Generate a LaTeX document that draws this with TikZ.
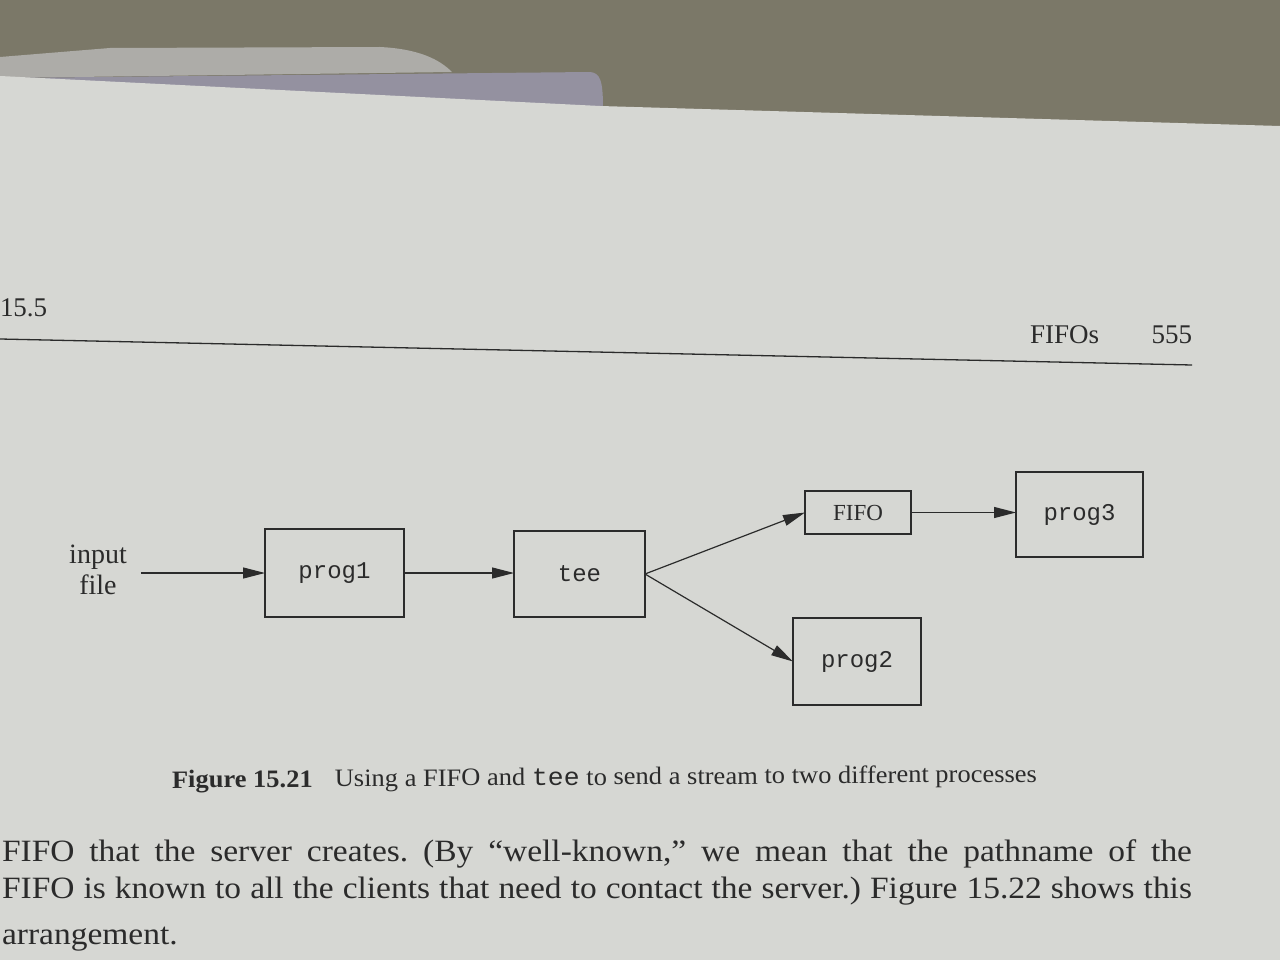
\documentclass[tikz,border=0pt]{standalone}
\usepackage{fontspec}
\setmainfont{Liberation Serif}
\setmonofont{Liberation Mono}
\newfontfamily\bodyfont[FakeStretch=1.08]{Liberation Serif}
\newfontfamily\capfont[FakeStretch=1.06]{Liberation Serif}
\newfontfamily\capmono[FakeStretch=1.06]{Liberation Mono}
\usetikzlibrary{arrows.meta}
\definecolor{bgolive}{HTML}{7B7868}
\definecolor{tablight}{HTML}{ADACA8}
\definecolor{tabshadow}{HTML}{9491A0}
\definecolor{paper}{HTML}{D6D7D3}
\definecolor{ink}{HTML}{2B2B2B}
\tikzset{
  pbox/.style={draw=ink, line width=1.2pt, inner sep=0pt, outer sep=0pt, text=ink,
    font=\fontsize{24}{28}\selectfont\ttfamily},
  sbox/.style={draw=ink, line width=1.2pt, inner sep=0pt, outer sep=0pt, text=ink,
    font=\fontsize{23}{27}\selectfont},
  conn/.style={draw=ink, line width=1.2pt, -{Triangle[length=22pt,width=11pt]}},
  plain/.style={text=ink, inner sep=0pt, outer sep=0pt},
  hdr/.style={plain, font=\fontsize{27}{30}\selectfont},
  captxt/.style={plain, font=\fontsize{25}{29}\capfont},
  bodytxt/.style={plain, font=\fontsize{31}{36}\bodyfont\frenchspacing},
}
\begin{document}
\begin{tikzpicture}[x=1pt,y=-1pt]
\useasboundingbox (0,0) rectangle (1280,960);
% photo background
\fill[bgolive] (0,0) rectangle (1280,960);
\fill[tablight] (0,57) -- (110,48) -- (380,47) .. controls (420,49) and (440,60) .. (452,72) -- (0,78) -- cycle;
\fill[tabshadow] (100,77) -- (590,72) .. controls (600,73) and (603,80) .. (603,108) -- (0,78) -- cycle;
\fill[paper] (0,76) -- (600,106) -- (1280,126) -- (1280,960) -- (0,960) -- cycle;
% running head
\node[hdr, anchor=base west] (sec) at (0,316) {15.5};
\node[hdr, anchor=base west] (title) at (1030,343) {FIFOs};
\node[hdr, anchor=base east] (page) at (1192,343) {555};
\coordinate (ruleL) at (0,339);
\coordinate (ruleR) at (1192,365);
\draw[ink, line width=1.3pt] (ruleL) -- (ruleR);
% diagram
\node[plain, align=center, font=\fontsize{28}{31}\selectfont, inner xsep=14pt] (in) at (98,570) {input\\file};
\node[pbox, minimum width=139pt, minimum height=88pt] (p1) at (334.5,573) {prog1};
\node[pbox, minimum width=131pt, minimum height=86pt] (tee) at (579.5,574) {tee};
\node[sbox, minimum width=106pt, minimum height=43pt] (fifo) at (858,512.5) {FIFO};
\node[pbox, minimum width=127pt, minimum height=85pt] (p3) at (1079.5,514.5) {prog3};
\node[pbox, minimum width=128pt, minimum height=87pt] (p2) at (857,661.5) {prog2};
\draw[conn] (in.east |- p1.west) -- (p1.west);
\draw[conn] (p1.east) -- (p1.east -| tee.west);
\draw[conn] (tee.east) -- (fifo.west);
\draw[conn] (tee.east) -- (p2.west);
\draw[conn] (fifo.east) -- (fifo.east -| p3.west);
% caption
\node[captxt, anchor=base west, rotate=0.4] (cap) at (172,788)
  {\textbf{Figure 15.21}\hspace{22pt}Using a FIFO and {\capmono tee} to send a stream to two different processes};
% body text
\node[bodytxt, anchor=base west] (b1) at (2,861)
  {\makebox[1190pt][s]{FIFO that the server creates. (By “well-known,” we mean that the pathname of the}};
\node[bodytxt, anchor=base west] (b2) at (2,898)
  {\makebox[1190pt][s]{FIFO is known to all the clients that need to contact the server.) Figure 15.22 shows this}};
\node[bodytxt, anchor=base west] (b3) at (2,944) {arrangement.};
\end{tikzpicture}
\end{document}
